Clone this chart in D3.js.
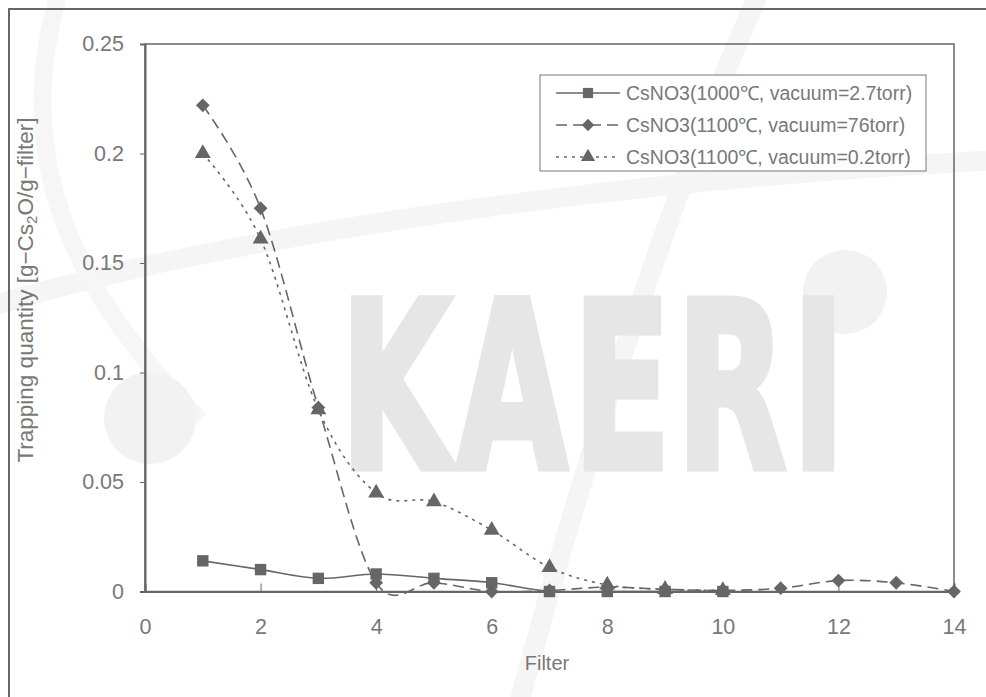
<!DOCTYPE html>
<html>
<head>
<meta charset="utf-8">
<script src="https://cdn.jsdelivr.net/npm/d3@7"></script>
<style>
  html, body { margin: 0; padding: 0; background: #fff; }
  svg { display: block; font-family: "Liberation Sans", Arial, sans-serif; }
</style>
</head>
<body>
<svg id="chart" width="986" height="697"></svg>
<script>
// data
const filters1 = [1, 2, 3, 4, 5, 6, 7, 8, 9, 10];
const values1 = [0.014, 0.010, 0.006, 0.008, 0.006, 0.004, 0.0, 0.0, 0.0, 0.0];
const filters2 = [1, 2, 3, 4, 5, 6, 7, 8, 9, 10, 11, 12, 13, 14];
const values2 = [0.222, 0.175, 0.084, 0.004, 0.004, 0.0, 0.0005, 0.002, 0.001, 0.0005, 0.0015, 0.005, 0.004, 0.0];
const filters3 = [1, 2, 3, 4, 5, 6, 7, 8, 9, 10];
const values3 = [0.200, 0.161, 0.083, 0.045, 0.041, 0.028, 0.011, 0.003, 0.001, 0.0005];
const seriesNames = [
  "CsNO3(1000\u2103, vacuum=2.7torr)",
  "CsNO3(1100\u2103, vacuum=76torr)",
  "CsNO3(1100\u2103, vacuum=0.2torr)"
];
const xTicks = [0, 2, 4, 6, 8, 10, 12, 14];
const yTicks = [0, 0.05, 0.1, 0.15, 0.2, 0.25];

const ink = "#666";
const textColor = "#787878";
const labelFont = "Liberation Sans, Arial, sans-serif";
const svg = d3.select("#chart");

// faint watermark behind the chart
const wm = svg.append("g").attr("class", "watermark");
wm.append("path")
  .attr("d", "M -20 310 C 200 240, 600 180, 1000 160")
  .attr("fill", "none").attr("stroke", "#f5f5f5").attr("stroke-width", 20);
wm.append("path")
  .attr("d", "M 760 -10 C 690 150, 600 400, 520 700")
  .attr("fill", "none").attr("stroke", "#f5f5f5").attr("stroke-width", 20);
wm.append("path")
  .attr("d", "M 60 -10 C 20 120, 40 260, 200 420")
  .attr("fill", "none").attr("stroke", "#f6f6f6").attr("stroke-width", 18);
wm.append("circle").attr("cx", 845).attr("cy", 292).attr("r", 42).attr("fill", "#f2f2f2");
wm.append("circle").attr("cx", 150).attr("cy", 418).attr("r", 46).attr("fill", "#f2f2f2");
wm.append("text")
  .attr("transform", "translate(340,468) scale(0.62,1)")
  .attr("font-family", "DejaVu Sans, sans-serif")
  .attr("font-size", 232).attr("font-weight", "bold")
  .attr("letter-spacing", 8)
  .attr("fill", "#e6e6e6").attr("stroke", "#e6e6e6").attr("stroke-width", 7)
  .text("KAERI");

// outer border
svg.append("rect")
  .attr("x", 9).attr("y", 9).attr("width", 1000).attr("height", 720)
  .attr("fill", "none").attr("stroke", ink).attr("stroke-width", 2);

const plot = { left: 145, right: 954, top: 44, bottom: 591.5 };
const x = d3.scaleLinear().domain([0, 14]).range([plot.left, plot.right]);
const y = d3.scaleLinear().domain([0, 0.25]).range([plot.bottom, plot.top]);

// plot frame
svg.append("rect")
  .attr("x", plot.left).attr("y", plot.top)
  .attr("width", plot.right - plot.left).attr("height", plot.bottom - plot.top)
  .attr("fill", "none").attr("stroke", ink).attr("stroke-width", 1.5);

// axes
const xAxis = svg.append("g")
  .attr("transform", `translate(0,${plot.bottom})`)
  .call(d3.axisBottom(x).tickValues(xTicks).tickFormat(d3.format("d")).tickSize(-8).tickPadding(27));
const yAxis = svg.append("g")
  .attr("transform", `translate(${plot.left},0)`)
  .call(d3.axisLeft(y).tickValues(yTicks).tickFormat(d => d === 0 ? "0" : String(d)).tickSize(5).tickPadding(16));
[xAxis, yAxis].forEach(ax => {
  ax.select(".domain").attr("stroke", ink).attr("stroke-width", 2);
  ax.selectAll(".tick line").attr("stroke", ink).attr("stroke-width", 1);
  ax.selectAll(".tick text")
    .attr("fill", textColor)
    .attr("font-size", 21.5)
    .attr("font-family", labelFont);
});

// axis titles
svg.append("text")
  .attr("x", 547).attr("y", 670)
  .attr("text-anchor", "middle")
  .attr("font-size", 20).attr("fill", textColor)
  .attr("font-family", labelFont)
  .text("Filter");
const yt = svg.append("text")
  .attr("transform", "translate(33,290) rotate(-90)")
  .attr("text-anchor", "middle")
  .attr("font-size", 22.5).attr("fill", textColor)
  .attr("font-family", labelFont);
yt.append("tspan").text("Trapping quantity [g\u2212Cs");
yt.append("tspan").attr("font-size", 15).attr("dy", 4).text("2");
yt.append("tspan").attr("dy", -4).text("O/g\u2212filter]");

// series
const series = [
  { xs: filters1, ys: values1, dash: null, marker: d3.symbolSquare, size: 130, rot: 0 },
  { xs: filters2, ys: values2, dash: "11,6", marker: d3.symbolSquare, size: 95, rot: 45 },
  { xs: filters3, ys: values3, dash: "3,5", marker: d3.symbolTriangle, size: 110, rot: 0 }
];

const line = d3.line()
  .x(d => x(d[0]))
  .y(d => y(d[1]))
  .curve(d3.curveCardinal.tension(0));

series.forEach(s => {
  const pts = s.xs.map((v, i) => [v, s.ys[i]]);
  svg.append("path")
    .datum(pts)
    .attr("d", line)
    .attr("fill", "none")
    .attr("stroke", ink)
    .attr("stroke-width", 1.6)
    .attr("stroke-dasharray", s.dash);
  svg.append("g").selectAll("path")
    .data(pts)
    .enter()
    .append("path")
    .attr("transform", d => `translate(${x(d[0])},${y(d[1])}) rotate(${s.rot})`)
    .attr("d", d3.symbol().type(s.marker).size(s.size))
    .attr("fill", ink);
});

// legend
const legend = svg.append("g").attr("transform", "translate(540,75)");
legend.append("rect")
  .attr("width", 386).attr("height", 96)
  .attr("fill", "#fff").attr("stroke", "#777").attr("stroke-width", 1);
series.forEach((s, i) => {
  const row = legend.append("g").attr("transform", `translate(0,${18 + i * 32})`);
  row.append("line")
    .attr("x1", 16).attr("x2", 80).attr("y1", 0).attr("y2", 0)
    .attr("stroke", ink).attr("stroke-width", 1.6)
    .attr("stroke-dasharray", s.dash);
  row.append("path")
    .attr("transform", `translate(48,0) rotate(${s.rot})`)
    .attr("d", d3.symbol().type(s.marker).size(s.size * 0.8))
    .attr("fill", ink);
  row.append("text")
    .attr("x", 86).attr("y", 7)
    .attr("font-size", 19.5).attr("fill", textColor)
    .attr("font-family", labelFont)
    .text(seriesNames[i]);
});
</script>
</body>
</html>
